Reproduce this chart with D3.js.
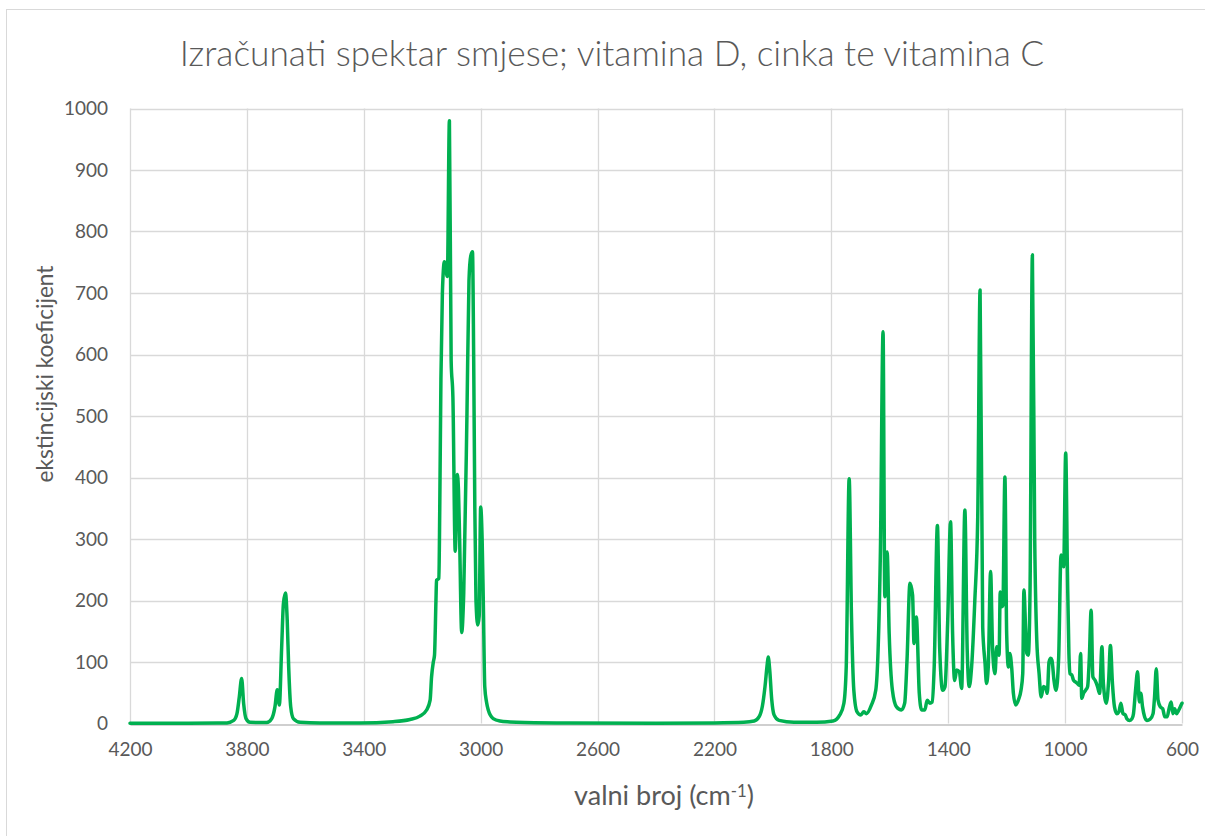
<!DOCTYPE html>
<html>
<head>
<meta charset="utf-8">
<script src="https://cdn.jsdelivr.net/npm/d3@7"></script>
<style>
  html, body { margin: 0; padding: 0; background: #ffffff; }
  svg { display: block; }
</style>
</head>
<body>
<svg id="chart" width="1205" height="836"></svg>
<script>
// ---- data ----
const chartTitle = "Izračunati spektar smjese; vitamina D, cinka te vitamina C";
const xAxisTitle = "valni broj (cm";
const xAxisTitleSup = "-1";
const yAxisTitle = "ekstincijski koeficijent";
const xTicks = [4200, 3800, 3400, 3000, 2600, 2200, 1800, 1400, 1000, 600];
const yTicks = [0, 100, 200, 300, 400, 500, 600, 700, 800, 900, 1000];

// wavenumber (cm-1)
const wavenumber = [
  4200, 4000, 3900, 3868, 3845, 3834, 3826, 3818, 3811, 3803, 3789, 3732, 3715, 3704, 3696, 3689,
  3681, 3675, 3668, 3662, 3657, 3650, 3641, 3618, 3550, 3413, 3300, 3242, 3208, 3185, 3173, 3168,
  3162, 3158, 3153, 3151, 3143, 3140, 3136, 3131, 3124, 3114, 3107, 3101, 3095, 3087, 3080, 3076,
  3072, 3065, 3058, 3047, 3040, 3034, 3028, 3024, 3020, 3016, 3010, 3005, 3000, 2995, 2991, 2986,
  2980, 2974, 2957, 2934, 2900, 2850, 2700, 2400, 2200, 2100, 2064, 2047, 2036, 2027, 2019, 2016,
  2011, 2004, 1996, 1979, 1928, 1850, 1794, 1771, 1757, 1749, 1739, 1731, 1723, 1712, 1699, 1689,
  1680, 1663, 1648, 1640, 1632, 1623, 1617, 1609, 1602, 1591, 1577, 1560, 1549, 1541, 1531, 1522,
  1517, 1509, 1499, 1491, 1480, 1472, 1463, 1455, 1448, 1437, 1429, 1419, 1411, 1402, 1392, 1385,
  1378, 1371, 1362, 1354, 1343, 1335, 1328, 1320, 1309, 1299, 1291, 1282, 1274, 1269, 1263, 1255,
  1248, 1240, 1234, 1226, 1222, 1216, 1213, 1206, 1200, 1194, 1189, 1183, 1177, 1169, 1160, 1151,
  1145, 1141, 1135, 1131, 1126, 1120, 1112, 1104, 1097, 1089, 1082, 1074, 1066, 1061, 1055, 1049,
  1045, 1038, 1031, 1022, 1014, 1009, 1005, 998, 992, 987, 983, 977, 971, 966, 958, 952,
  947, 943, 937, 930, 923, 917, 911, 905, 897, 889, 882, 874, 869, 859, 851, 845,
  838, 831, 823, 816, 809, 802, 794, 789, 779, 771, 766, 759, 752, 746, 741, 735,
  728, 720, 709, 699, 694, 688, 682, 674, 666, 659, 651, 643, 637, 631, 625, 619,
  611, 606, 600
];
// extinction coefficient
const extinction = [
  0.3, 0.4, 0.8, 1, 5, 16, 43, 73, 32, 8, 2, 1.5, 8, 27, 55, 30,
  124, 195, 212, 168, 92, 27, 8, 2, 1, 1, 3, 6.5, 12, 22, 38, 76,
  100, 111, 200, 233, 236, 350, 560, 700, 751, 727, 980, 590, 530, 280, 405, 380,
  300, 148, 211, 500, 720, 760, 767, 600, 350, 200, 160, 175, 352, 300, 200, 60,
  35, 22, 8, 4, 2.5, 1.5, 0.7, 0.5, 1, 2, 4, 11, 28, 60, 98, 108,
  88, 39, 14, 5, 2, 2, 4, 14, 33, 92, 398, 173, 54, 19, 14, 19,
  16, 30, 54, 119, 282, 637, 206, 279, 146, 54, 27, 22, 33, 103, 228, 209,
  130, 173, 49, 22, 22, 38, 33, 35, 92, 322, 119, 54, 60, 163, 328, 146,
  70, 87, 84, 57, 347, 119, 60, 92, 200, 336, 705, 157, 98, 65, 92, 247,
  119, 81, 125, 111, 214, 190, 192, 401, 146, 92, 114, 92, 49, 30, 38, 54,
  81, 217, 152, 114, 111, 217, 762, 298, 136, 81, 43, 60, 57, 49, 100, 106,
  103, 70, 54, 108, 274, 265, 255, 440, 244, 114, 81, 79, 70, 68, 65, 62,
  114, 41, 49, 54, 60, 108, 184, 76, 70, 60, 49, 125, 65, 33, 70, 127,
  65, 27, 16, 19, 33, 16, 14, 8, 5, 8, 16, 54, 84, 35, 49, 27,
  11, 5, 7, 16, 43, 89, 38, 27, 24, 11, 11, 27, 35, 16, 24, 16,
  22, 27, 33
];

// ---- drawing ----
const svg = d3.select("#chart");
const FONT = "Lato, 'Open Sans', 'DejaVu Sans', sans-serif";
const TEXT = "#595959";

// chart area border
svg.append("rect")
  .attr("x", 6.5).attr("y", 9.5).attr("width", 1210).attr("height", 840)
  .attr("fill", "#ffffff").attr("stroke", "#d9d9d9").attr("stroke-width", 1);

const x = d3.scaleLinear().domain([4200, 600]).range([130, 1182]);
const y = d3.scaleLinear().domain([0, 1000]).range([723.5, 108.5]);

// gridlines
const grid = svg.append("g");
grid.selectAll("line.h").data(yTicks.filter(d => d > 0)).join("line")
  .attr("x1", x(4200)).attr("x2", x(600))
  .attr("y1", d => Math.round(y(d)) + 0.5).attr("y2", d => Math.round(y(d)) + 0.5)
  .attr("stroke", "#d9d9d9").attr("stroke-width", 1.3);
grid.selectAll("line.v").data(xTicks).join("line")
  .attr("x1", d => Math.round(x(d)) + 0.5).attr("x2", d => Math.round(x(d)) + 0.5)
  .attr("y1", y(1000)).attr("y2", y(0))
  .attr("stroke", "#d9d9d9").attr("stroke-width", 1.3);

// axes via d3
const xAxis = d3.axisBottom(x).tickValues(xTicks).tickSize(0).tickPadding(18).tickFormat(d3.format("d"));
const gx = svg.append("g").attr("transform", `translate(0,${Math.round(y(0)) + 0.5})`).call(xAxis);
gx.select(".domain").attr("stroke", "#bfbfbf").attr("stroke-width", 1.3);
gx.selectAll("text").attr("fill", TEXT).style("font-family", FONT).style("font-size", "19px");

const yAxis = d3.axisLeft(y).tickValues(yTicks).tickSize(0).tickPadding(22).tickFormat(d3.format("d"));
const gy = svg.append("g").attr("transform", `translate(${x(4200)},0)`).call(yAxis);
gy.select(".domain").remove();
gy.selectAll("text").attr("fill", TEXT).style("font-family", FONT).style("font-size", "19px");

// spectrum line
const pts = wavenumber.map((w, i) => [w, extinction[i]]);
const line = d3.line().x(d => x(d[0])).y(d => y(d[1])).curve(d3.curveMonotoneX);
svg.append("path").datum(pts)
  .attr("d", line)
  .attr("fill", "none")
  .attr("stroke", "#00B050")
  .attr("stroke-width", 3.5)
  .attr("stroke-linejoin", "round")
  .attr("stroke-linecap", "round");

// text fitting helper (scales font size so the text spans the target width)
function fitText(sel, target) {
  const w = sel.node().getComputedTextLength();
  const fs = parseFloat(sel.style("font-size"));
  sel.style("font-size", (fs * target / w) + "px");
}

// title
const title = svg.append("text")
  .attr("x", 612).attr("y", 66).attr("text-anchor", "middle")
  .attr("fill", TEXT).style("font-family", FONT).style("font-weight", 300).style("font-size", "28px")
  .text(chartTitle);
fitText(title, 865);

// x-axis title
const xt = svg.append("text")
  .attr("x", 664).attr("y", 805).attr("text-anchor", "middle")
  .attr("fill", TEXT).style("font-family", FONT).style("font-size", "21px");
xt.append("tspan").text(xAxisTitle);
xt.append("tspan").attr("dy", -8).style("font-size", "0.62em").text(xAxisTitleSup);
xt.append("tspan").attr("dy", 8).text(")");
fitText(xt, 180);

// y-axis title
const yt = svg.append("text")
  .attr("transform", "translate(53,374) rotate(-90)")
  .attr("text-anchor", "middle")
  .attr("fill", TEXT).style("font-family", FONT).style("font-size", "21px")
  .text(yAxisTitle);
fitText(yt, 217);
</script>
</body>
</html>
